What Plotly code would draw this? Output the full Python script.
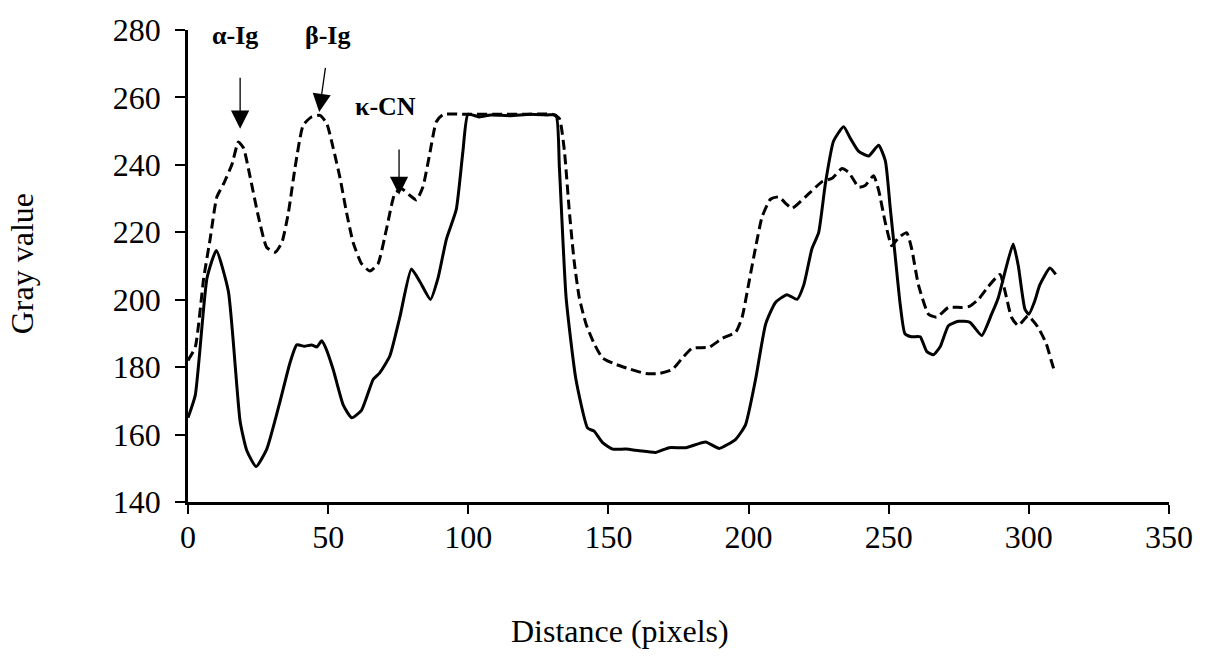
import plotly.graph_objects as go

# ---- data ----
solid_x = [0, 2.6, 6.8, 10.1, 14.4, 18.6, 21.0, 24.3, 28.1, 32.8, 36.4, 38.8, 41.5, 44.1, 46, 47.7, 49.2,
           51.8, 55.4, 58.4, 61.9, 66.1, 68.4, 72, 75.6, 79.7, 82.7, 86.5, 89.2, 92.2, 95.7, 98.1, 99.9,
           104, 108, 115, 122, 128, 131.3, 132.5, 134.9, 138.4, 142.6, 144.9, 147.9, 151.5, 156.2, 161,
           166.9, 171.6, 177.6, 184.7, 189.5, 195.4, 198.9, 202.5, 206.1, 209.6, 213.7, 217.3, 219.7,
           222.6, 225, 227.4, 230.3, 233.9, 236.3, 239.2, 242.8, 246.4, 248.8, 250.5, 252.3, 254.1,
           255.8, 258.2, 261.2, 263.6, 266, 268.4, 271.3, 274.9, 279, 283.2, 286.7, 289.1, 291.5, 294.4,
           296.2, 298.6, 300, 302.1, 303.9, 307.5, 309.6]
solid_y = [165, 171.7, 206.5, 214.6, 202.5, 163.9, 155.2, 150.5, 155.7, 169.7, 181.3, 186.6, 186.2, 186.6,
           186.0, 187.8, 185.6, 179.3, 168.7, 165, 167.2, 176.4, 178.3, 183.3, 194.9, 209.1, 205.4, 200.1,
           206.4, 218, 226.7, 244.1, 255, 254.2, 254.8, 254.6, 255, 254.8, 254.7, 239.2, 200.6, 176.4,
           161.9, 161, 157.6, 155.7, 155.7, 155.2, 154.7, 156.1, 156.1, 157.8, 155.9, 158.6, 162.9, 176.4,
           192.8, 199.2, 201.5, 200.1, 204.4, 215.1, 219.9, 234.4, 247, 251.3, 247.9, 244.1, 242.6, 245.8,
           241.2, 227.6, 213.1, 198.6, 189.9, 189, 189, 184.6, 183.7, 186.1, 192.3, 193.6, 193.3, 189.4,
           195.7, 200.6, 208.3, 216.5, 210.2, 197.2, 195.7, 199.6, 204.4, 209.4, 207.5]

dash_x = [0, 2.6, 5.6, 7.9, 10.3, 12.7, 15.7, 18, 19.8, 22.2, 25.1, 28.1, 31.1, 33.5, 35.8, 38.2, 41.1,
          44.1, 47.1, 49.5, 51.8, 54.2, 56.6, 58.9, 61.9, 64.9, 67.8, 70.8, 73.8, 76.2, 79.1, 81.5, 83.8,
          86.2, 88.6, 91, 100, 110, 120, 130, 132.5, 134.3, 136, 137.8, 139.6, 142, 144.9, 147.9, 152.7,
          157.4, 163.3, 168.1, 172.8, 176.4, 179.9, 185.9, 190.6, 195.4, 197.7, 200.1, 202.5, 204.8, 207.8,
          210.8, 213.2, 215.5, 220.3, 226.2, 229.8, 233.3, 235.7, 239.3, 241.6, 244.6, 246.4, 248.8, 251.1,
          253.5, 256.4, 258.2, 260.6, 264.2, 267.1, 271.3, 276, 279, 282, 285.5, 289.7, 291.5, 293.8,
          296.2, 299.7, 303.2, 306.2, 307.9, 309.3]
dash_y = [182, 186, 206.4, 218, 230.5, 234.4, 240.2, 246.8, 245, 236.3, 224.7, 215.5, 214.1, 217, 225.7,
          239.2, 251.8, 254.2, 254.7, 252.3, 245, 236.3, 225.7, 217, 210.7, 208.5, 210.7, 220.9, 231.5,
          232.9, 231, 229.6, 233.4, 243.1, 252.8, 254.9, 255, 255, 255, 255, 253.7, 244.1, 226.7, 211.2,
          200.6, 192.8, 187, 182.7, 180.8, 179.5, 178.1, 178.1, 179.3, 182.7, 185.6, 185.9, 188.5, 190.4,
          194.8, 205, 215.5, 224.5, 229.8, 230.5, 228.6, 227.1, 230.5, 235, 236, 238.9, 237.8, 233.4,
          233.9, 236.8, 232.5, 222.8, 216, 218.4, 219.9, 215.1, 204.4, 195.7, 194.8, 197.7, 197.7, 198.1,
          200.1, 203.9, 207.5, 202.5, 194.8, 192.3, 195.2, 191.9, 187, 182.2, 178.3]

x_ticks = [0, 50, 100, 150, 200, 250, 300, 350]
y_ticks = [140, 160, 180, 200, 220, 240, 260, 280]

peak_labels = ["α-Ig", "β-Ig", "κ-CN"]
peak_tip_x = [18.6, 46.8, 75.3]
peak_tip_y = [250.7, 255.7, 231.1]
peak_tail_x = [18.6, 49.1, 75.3]
peak_tail_y = [266.3, 269.2, 245.0]
label_x = [16.8, 49.6, 70.6]
label_y = [278.3, 278.3, 257.2]

FONT = "Liberation Serif, Times New Roman, serif"

fig = go.Figure()
fig.add_trace(go.Scatter(x=dash_x, y=dash_y, mode="lines",
                         line=dict(color="black", width=3, dash="10px,5px",
                                   shape="spline", smoothing=0.5),
                         cliponaxis=False, showlegend=False, hoverinfo="skip"))
fig.add_trace(go.Scatter(x=solid_x, y=solid_y, mode="lines",
                         line=dict(color="black", width=3, shape="spline", smoothing=0.5),
                         cliponaxis=False, showlegend=False, hoverinfo="skip"))

for lab, tx, ty, ax, ay, lx, ly in zip(peak_labels, peak_tip_x, peak_tip_y,
                                       peak_tail_x, peak_tail_y, label_x, label_y):
    fig.add_annotation(x=tx, y=ty, ax=ax, ay=ay, xref="x", yref="y", axref="x", ayref="y",
                       text="", showarrow=True, arrowhead=2, arrowsize=2.8, arrowwidth=1.3,
                       arrowcolor="black")
    fig.add_annotation(x=lx, y=ly, xref="x", yref="y", text="<b>" + lab + "</b>",
                       showarrow=False, font=dict(family=FONT, size=26, color="black"))

# axis titles
fig.add_annotation(x=0.4407, y=0, xref="paper", yref="paper", yshift=-129,
                   text="Distance (pixels)", showarrow=False, yanchor="middle",
                   font=dict(family=FONT, size=32, color="black"))
fig.add_annotation(x=0, y=0.5037, xref="paper", yref="paper", xshift=-166,
                   text="Gray value", showarrow=False, textangle=-90, xanchor="center",
                   yanchor="middle", font=dict(family=FONT, size=32, color="black"))

fig.update_layout(
    width=1208, height=659,
    margin=dict(l=188, r=39, t=19, b=157),
    paper_bgcolor="white", plot_bgcolor="white",
    font=dict(family=FONT, size=32, color="black"),
    xaxis=dict(range=[0, 350], tickvals=x_ticks, ticks="outside", ticklen=9, tickwidth=2,
               tickcolor="black", showline=True, linecolor="black", linewidth=2.5,
               showgrid=False, zeroline=False, ticklabelstandoff=-4),
    yaxis=dict(range=[140, 280], tickvals=y_ticks, ticks="outside", ticklen=10, tickwidth=2,
               tickcolor="black", showline=True, linecolor="black", linewidth=2.5,
               showgrid=False, zeroline=False, ticklabelstandoff=8),
)

fig.write_html("out.html", config={"displayModeBar": False},
               post_script="document.body.style.margin='0';document.body.style.padding='0';")
